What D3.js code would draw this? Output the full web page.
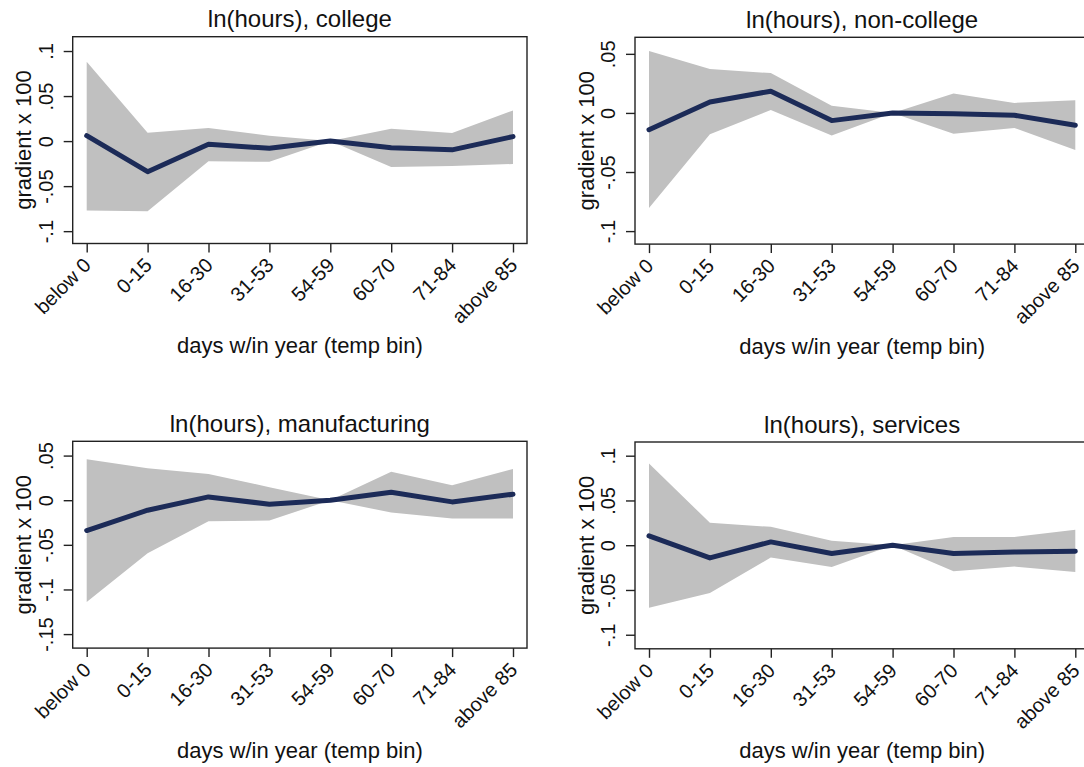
<!DOCTYPE html>
<html>
<head>
<meta charset="utf-8">
<script src="https://cdn.jsdelivr.net/npm/d3@7"></script>
<style>
  html, body { margin: 0; padding: 0; background: #fff; overflow: hidden; }
  svg { display: block; }
  text { font-family: "Liberation Sans", Arial, Helvetica, sans-serif; fill: #111; }
</style>
</head>
<body>
<svg id="chart" width="1084" height="767"></svg>
<script>
// Temperature bins (x categories)
const bins = ["below 0", "0-15", "16-30", "31-53", "54-59", "60-70", "71-84", "above 85"];

// Panel titles
const titles = ["ln(hours), college", "ln(hours), non-college", "ln(hours), manufacturing", "ln(hours), services"];

// Point estimates and confidence bands, one set per panel
const collegeEst = [0.006, -0.034, -0.0034, -0.008, 0, -0.0075, -0.0097, 0.005];
const collegeHi  = [0.088, 0.0093, 0.0146, 0.006, 0, 0.0138, 0.009, 0.034];
const collegeLo  = [-0.077, -0.078, -0.0224, -0.023, 0, -0.0287, -0.0276, -0.0254];

const noncollegeEst = [-0.0142, 0.0093, 0.0184, -0.0065, 0, -0.0006, -0.002, -0.0105];
const noncollegeHi  = [0.0524, 0.0371, 0.0337, 0.006, 0, 0.0164, 0.0085, 0.0108];
const noncollegeLo  = [-0.0805, -0.0181, 0.0025, -0.019, 0, -0.0176, -0.0127, -0.0314];

const manufEst = [-0.034, -0.0112, 0.0037, -0.0045, 0, 0.009, -0.0019, 0.0067];
const manufHi  = [0.0459, 0.0358, 0.0295, 0.0146, 0, 0.032, 0.0168, 0.035];
const manufLo  = [-0.114, -0.0593, -0.0235, -0.0228, 0, -0.0138, -0.0205, -0.0205];

const servicesEst = [0.0104, -0.0142, 0.0037, -0.0093, 0, -0.0093, -0.0075, -0.0067];
const servicesHi  = [0.0914, 0.025, 0.0205, 0.0049, 0, 0.0093, 0.0093, 0.0172];
const servicesLo  = [-0.0698, -0.0534, -0.0138, -0.0243, 0, -0.0291, -0.0239, -0.0299];

// Y axis ticks per panel
const collegeTicks    = [0.1, 0.05, 0, -0.05, -0.1];
const noncollegeTicks = [0.05, 0, -0.05, -0.1];
const manufTicks      = [0.05, 0, -0.05, -0.1, -0.15];
const servicesTicks   = [0.1, 0.05, 0, -0.05, -0.1];

// Y axis extents per panel
const collegeDomain    = [-0.1137, 0.1159];
const noncollegeDomain = [-0.111, 0.064];
const manufDomain      = [-0.1657, 0.066];
const servicesDomain   = [-0.1157, 0.1153];

const yTitle = "gradient x 100";
const xTitle = "days w/in year (temp bin)";

const panels = [
  { title: titles[0], est: collegeEst, hi: collegeHi, lo: collegeLo, ticks: collegeTicks, domain: collegeDomain, x: 72.7, y: 36.7 },
  { title: titles[1], est: noncollegeEst, hi: noncollegeHi, lo: noncollegeLo, ticks: noncollegeTicks, domain: noncollegeDomain, x: 635, y: 37.3 },
  { title: titles[2], est: manufEst, hi: manufHi, lo: manufLo, ticks: manufTicks, domain: manufDomain, x: 72.7, y: 441.3 },
  { title: titles[3], est: servicesEst, hi: servicesHi, lo: servicesLo, ticks: servicesTicks, domain: servicesDomain, x: 635, y: 442 }
];

const W = 454.3, H = 206.8;
const svg = d3.select("#chart");
svg.append("rect").attr("width", 1084).attr("height", 767).attr("fill", "#fff");

// Stata-style number format: drop the leading zero
const fmt = v => {
  if (v === 0) return "0";
  const s = String(+v.toFixed(3));
  return s.replace(/^(-?)0\./, "$1.");
};

panels.forEach(p => {
  const g = svg.append("g").attr("transform", `translate(${p.x},${p.y})`);

  const x = d3.scalePoint().domain(bins).range([14, W - 14]);
  const y = d3.scaleLinear().domain(p.domain).range([H, 0]);

  const rows = bins.map((b, i) => ({ b, est: p.est[i], hi: p.hi[i], lo: p.lo[i] }));

  // confidence band
  g.append("path")
    .datum(rows)
    .attr("fill", "#c0c0c0")
    .attr("d", d3.area().x(d => x(d.b)).y0(d => y(d.lo)).y1(d => y(d.hi)));

  // point estimate line
  g.append("path")
    .datum(rows)
    .attr("fill", "none")
    .attr("stroke", "#1c2b58")
    .attr("stroke-width", 5)
    .attr("stroke-linejoin", "round")
    .attr("stroke-linecap", "round")
    .attr("d", d3.line().x(d => x(d.b)).y(d => y(d.est)));

  // frame
  g.append("rect")
    .attr("width", W).attr("height", H)
    .attr("fill", "none").attr("stroke", "#222").attr("stroke-width", 1.4);

  // y axis
  const yAxis = d3.axisLeft(y).tickValues(p.ticks).tickSize(9).tickFormat(fmt);
  const ya = g.append("g").call(yAxis);
  ya.select(".domain").remove();
  ya.selectAll(".tick line").attr("stroke", "#222").attr("stroke-width", 1.4);
  ya.selectAll(".tick text")
    .attr("x", null).attr("dy", null)
    .attr("transform", "translate(-20,0) rotate(-90)")
    .attr("text-anchor", "middle")
    .style("font-size", "20px")
    .style("font-family", '"Liberation Sans", Arial, sans-serif')
    .attr("fill", "#111");

  // x axis
  const xAxis = d3.axisBottom(x).tickSize(9);
  const xa = g.append("g").attr("transform", `translate(0,${H})`).call(xAxis);
  xa.select(".domain").remove();
  xa.selectAll(".tick line").attr("stroke", "#222").attr("stroke-width", 1.4);
  xa.selectAll(".tick text")
    .attr("y", null).attr("dy", null)
    .attr("transform", "translate(5,23) rotate(-45)")
    .attr("text-anchor", "end")
    .style("font-size", "20px")
    .style("font-family", '"Liberation Sans", Arial, sans-serif')
    .attr("fill", "#111");

  // titles
  g.append("text")
    .attr("x", W / 2).attr("y", -9.5)
    .attr("text-anchor", "middle")
    .style("font-size", "24px")
    .text(p.title);

  g.append("text")
    .attr("transform", `translate(-41.5,${H / 2}) rotate(-90)`)
    .attr("text-anchor", "middle")
    .style("font-size", "22px")
    .text(yTitle);

  g.append("text")
    .attr("x", W / 2).attr("y", H + 109.5)
    .attr("text-anchor", "middle")
    .style("font-size", "22px")
    .text(xTitle);
});
</script>
</body>
</html>
